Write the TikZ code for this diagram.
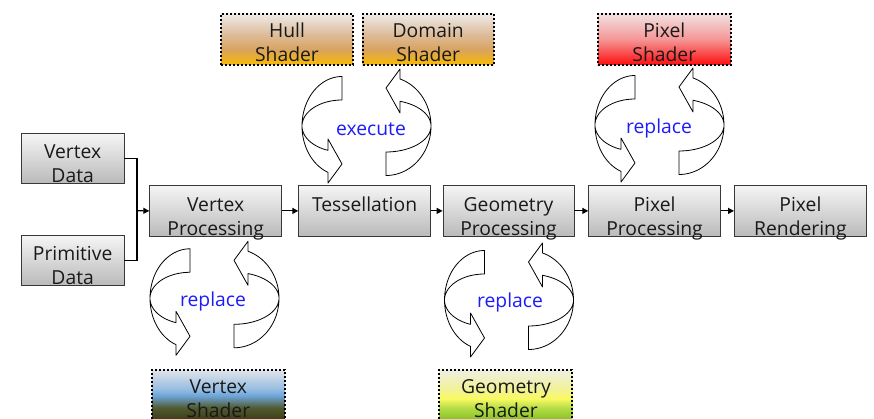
\documentclass[tikz,border=0pt]{standalone}
\usepackage{fontspec}
\setmainfont{Open Sans}
\usetikzlibrary{arrows.meta}
\definecolor{lbl}{RGB}{28,28,250}
\definecolor{hsA}{HTML}{F8BA05}\definecolor{hsB}{HTML}{D9A35F}\definecolor{hsC}{HTML}{DDBD9C}\definecolor{hsD}{HTML}{EFEBE8}
\definecolor{psA}{HTML}{FF0E0E}\definecolor{psB}{HTML}{F59696}\definecolor{psC}{HTML}{F2E2E2}
\definecolor{vsA}{HTML}{3A3A12}\definecolor{vsB}{HTML}{505A30}\definecolor{vsC}{HTML}{6EA6DC}\definecolor{vsD}{HTML}{96BCE0}\definecolor{vsE}{HTML}{E0E4EA}
\definecolor{gsA}{HTML}{80C020}\definecolor{gsB}{HTML}{B6DC48}\definecolor{gsC}{HTML}{FAFA60}\definecolor{gsD}{HTML}{F2F292}\definecolor{gsE}{HTML}{EFEFE2}
\pgfdeclareverticalshading{hullsh}{100bp}{color(0bp)=(hsA); color(25bp)=(hsA); color(40bp)=(hsB); color(55bp)=(hsC); color(75bp)=(hsD); color(100bp)=(hsD)}
\pgfdeclareverticalshading{pixsh}{100bp}{color(0bp)=(psA); color(25bp)=(psA); color(50bp)=(psB); color(75bp)=(psC); color(100bp)=(psC)}
\pgfdeclareverticalshading{vertsh}{100bp}{color(0bp)=(vsA); color(25bp)=(vsA); color(38bp)=(vsB); color(50bp)=(vsC); color(56bp)=(vsD); color(75bp)=(vsE); color(100bp)=(vsE)}
\pgfdeclareverticalshading{geomsh}{100bp}{color(0bp)=(gsA); color(25bp)=(gsA); color(38bp)=(gsB); color(47bp)=(gsC); color(55bp)=(gsD); color(75bp)=(gsE); color(100bp)=(gsE)}
\newcommand\firstln{\rule{0pt}{16pt}}
\newcommand\cycpair[2]{%
  \draw[cycarrow] plot[domain=-90:-249.5,samples=50] ({#1-22+40*cos(\x)},{#2+49.5*sin(\x)})
    -- ({#1-36},{#2+57}) -- ({#1-22},{#2+38}) -- ({#1-36},{#2+13})
    -- plot[domain=-249.5:-90,samples=50] ({#1-22+40*cos(\x)},{#2+26*sin(\x)}) -- cycle;
  \draw[cycarrow] plot[domain=-90:-251.9,samples=50] ({#1+22-45*cos(\x)},{#2-49.5*sin(\x)})
    -- ({#1+36},{#2-57}) -- ({#1+22},{#2-38}) -- ({#1+36},{#2-13})
    -- plot[domain=-251.9:-90,samples=50] ({#1+22-45*cos(\x)},{#2-26*sin(\x)}) -- cycle;}
\tikzset{
  pbox/.style={draw=black!78, line width=0.8pt, top color=black!4, bottom color=black!27,
    minimum height=51pt, minimum width=132pt, inner sep=0pt, anchor=north west},
  sbox/.style={draw=black, line width=2pt, dash pattern=on 2pt off 2pt,
    minimum height=51pt, minimum width=132pt, inner sep=0pt, anchor=north west},
  txt/.style={font=\fontsize{19.3}{24}\selectfont, align=center, inner sep=0pt, anchor=north, text=black!90},
  lbltxt/.style={font=\fontsize{19.3}{24}\selectfont, inner sep=0pt, text=lbl},
  cycarrow/.style={draw=black, fill=white, line width=0.8pt, line join=round},
  conn/.style={draw=black, line width=1.2pt, -{Triangle[length=6pt,width=6pt]}},
  wire/.style={draw=black, line width=1.2pt}
}
\begin{document}
\begin{tikzpicture}[x=1pt,y=-1pt]
\useasboundingbox (0,0) rectangle (874,419);
% pipeline boxes
\node[pbox, minimum width=102.5pt, minimum height=49.5pt] (vd) at (21,133.3) {};
\node[pbox, minimum width=102.5pt, minimum height=50pt] (pd) at (21,235) {};
\node[pbox] (vp) at (149.3,185) {};
\node[pbox, minimum width=131.7pt] (ts) at (298.3,185) {};
\node[pbox, minimum width=131pt] (gp) at (442.6,185) {};
\node[pbox, minimum width=131.7pt] (pp) at (588.3,185) {};
\node[pbox] (pr) at (734,185) {};
% shader boxes
\node[sbox, shading=hullsh] (hs) at (220,12.7) {};
\node[sbox, shading=hullsh, minimum width=131pt] (ds) at (361.7,12.7) {};
\node[sbox, shading=pixsh, minimum width=133pt] (ps) at (596.8,12.7) {};
\node[sbox, shading=vertsh, minimum width=133pt] (vs) at (150.8,369) {};
\node[sbox, shading=geomsh, minimum width=133pt] (gs) at (438.4,369) {};
% texts
\node[txt] (vd-t) at ([yshift=-9pt]vd.north) {\firstln Vertex\\Data};
\node[txt] (pd-t) at ([yshift=-9pt]pd.north) {\firstln Primitive\\Data};
\node[txt] (vp-t) at ([yshift=-10pt]vp.north) {\firstln Vertex\\Processing};
\node[txt] (ts-t) at ([yshift=-10pt]ts.north) {\firstln Tessellation};
\node[txt] (gp-t) at ([yshift=-10pt]gp.north) {\firstln Geometry\\Processing};
\node[txt] (pp-t) at ([yshift=-10pt]pp.north) {\firstln Pixel\\Processing};
\node[txt] (pr-t) at ([yshift=-10pt]pr.north) {\firstln Pixel\\Rendering};
\node[txt] (hs-t) at ([yshift=-8.5pt]hs.north) {\firstln Hull\\Shader};
\node[txt] (ds-t) at ([yshift=-8.5pt]ds.north) {\firstln Domain\\Shader};
\node[txt] (ps-t) at ([yshift=-8.5pt]ps.north) {\firstln Pixel\\Shader};
\node[txt] (vs-t) at ([yshift=-8.5pt]vs.north) {\firstln Vertex\\Shader};
\node[txt] (gs-t) at ([yshift=-8.5pt]gs.north) {\firstln Geometry\\Shader};
% connectors
\coordinate (j) at (137,210.75);
\draw[wire] (vd.east) -| (j);
\draw[wire] (pd.east) -| (j);
\draw[conn] (j) -- (vp.west);
\draw[conn] (vp.east) -- (ts.west);
\draw[conn] (ts.east) -- (gp.west);
\draw[conn] (gp.east) -- (pp.west);
\draw[conn] (pp.east) -- (pr.west);
% circular arrows
\cycpair{212}{298.3}
\cycpair{364}{126}
\cycpair{506.5}{300}
\cycpair{657}{125}
\node[lbltxt] (l1) at (213,301) {replace};
\node[lbltxt] (l2) at (371,129) {execute};
\node[lbltxt] (l3) at (510,302.5) {replace};
\node[lbltxt] (l4) at (659,128.5) {replace};
\end{tikzpicture}
\end{document}
